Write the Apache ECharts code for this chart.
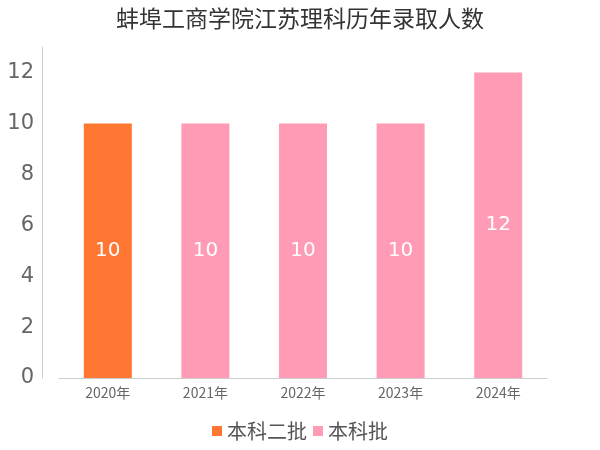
<html>
<head>
<meta charset="utf-8">
<script src="https://cdn.jsdelivr.net/npm/echarts@6/dist/echarts.min.js"></script>
</head>
<body style="margin:0">
<div id="main" style="width:600px;height:450px"></div>
<script>
var years = ['2020年', '2021年', '2022年', '2023年', '2024年'];
var erpi = [10, null, null, null, null];
var benke = [null, 10, 10, 10, 12];
var chart = echarts.init(document.getElementById('main'));
var lbl = { show: true, position: 'inside', color: '#fff', fontSize: 20, fontFamily: 'DejaVu Sans' };
chart.setOption({
  textStyle: { fontFamily: 'Noto Sans CJK SC' },
  title: { text: '蚌埠工商学院江苏理科历年录取人数', left: 'center', top: 2,
    textStyle: { fontSize: 23, fontWeight: 'normal', color: '#333' } },
  legend: { bottom: 4, itemWidth: 10, itemHeight: 10, itemGap: 6, icon: 'rect',
    textStyle: { fontSize: 20, color: '#555' }, data: ['本科二批', '本科批'] },
  grid: { left: 59, right: 53, top: 47, bottom: 72 },
  xAxis: { type: 'category', data: years,
    axisLine: { lineStyle: { color: '#ccc' } }, axisTick: { show: false },
    axisLabel: { fontSize: 14, color: '#666' } },
  yAxis: { type: 'value', min: 0, max: 13, interval: 2, offset: 17,
    axisLine: { show: true, lineStyle: { color: '#ccc' } }, splitLine: { show: false },
    axisLabel: { fontSize: 21, color: '#666', showMaxLabel: false, fontFamily: 'DejaVu Sans' } },
  series: [
    { name: '本科二批', type: 'bar', stack: 'a', barWidth: 48, data: erpi,
      itemStyle: { color: '#ff7733' }, label: lbl },
    { name: '本科批', type: 'bar', stack: 'a', barWidth: 48, data: benke,
      itemStyle: { color: '#ff9bb4' }, label: lbl }
  ]
});
</script>
</body>
</html>
